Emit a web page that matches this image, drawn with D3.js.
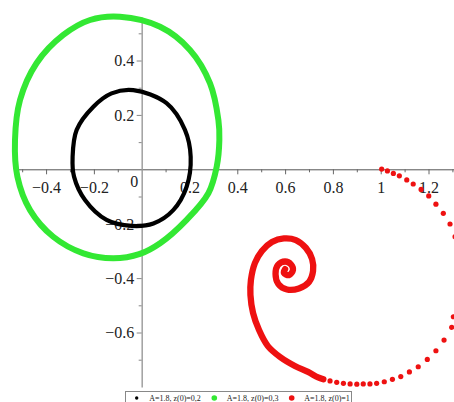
<!DOCTYPE html>
<html>
<head>
<meta charset="utf-8">
<script src="https://cdn.jsdelivr.net/npm/d3@7"></script>
<style>
  html, body { margin: 0; padding: 0; background: #fff; }
  svg { display: block; }
  svg text { font-family: "Liberation Serif", "Times New Roman", serif; }
</style>
</head>
<body>
<svg id="chart" width="454" height="402"></svg>
<script>
// z(0)=0,2 : closed orbit
const orbitSmall = [
  [-0.035, 0.291], [0.104, 0.243], [0.181, 0.145], [0.205, 0.046],
  [0.188, -0.064], [0.132, -0.150], [0.049, -0.199], [-0.042, -0.208],
  [-0.147, -0.186], [-0.237, -0.113], [-0.283, -0.027], [-0.289, 0.046],
  [-0.272, 0.145], [-0.202, 0.230], [-0.126, 0.279]
];

// z(0)=0,3 : larger closed orbit
const orbitLarge = [
  [-0.091, 0.561], [0.077, 0.524], [0.202, 0.439], [0.286, 0.316],
  [0.321, 0.181], [0.325, 0.108], [0.314, 0.010], [0.279, -0.088],
  [0.188, -0.186], [0.077, -0.272], [-0.007, -0.311], [-0.119, -0.327],
  [-0.244, -0.309], [-0.370, -0.248], [-0.467, -0.150], [-0.520, -0.027],
  [-0.530, 0.108], [-0.509, 0.255], [-0.440, 0.390], [-0.328, 0.494],
  [-0.216, 0.549]
];

// z(0)=1 : sparse points of the outer sweep
const spiralDots = [
  [1.004, 0.001], [1.028, -0.006], [1.053, -0.015], [1.078, -0.024],
  [1.109, -0.039], [1.136, -0.054], [1.169, -0.074], [1.201, -0.098],
  [1.231, -0.128], [1.262, -0.162], [1.290, -0.201], [1.311, -0.248],
  [1.304, -0.542], [1.297, -0.581], [1.265, -0.628], [1.231, -0.667],
  [1.195, -0.699], [1.157, -0.726], [1.120, -0.745], [1.084, -0.762],
  [1.049, -0.772], [1.015, -0.781], [0.983, -0.787], [0.955, -0.789],
  [0.927, -0.789], [0.900, -0.790], [0.872, -0.789], [0.844, -0.787],
  [0.816, -0.783], [0.788, -0.778], [0.760, -0.772]
];

// z(0)=1 : points so dense they merge into a line, winding into the focus
const spiralTrack = [
  [0.760, -0.772], [0.738, -0.765], [0.696, -0.745], [0.641, -0.723],
  [0.579, -0.690], [0.528, -0.650], [0.491, -0.591], [0.466, -0.528],
  [0.455, -0.462], [0.457, -0.407], [0.474, -0.344], [0.503, -0.300],
  [0.545, -0.267], [0.595, -0.254], [0.645, -0.260], [0.687, -0.289],
  [0.713, -0.330], [0.717, -0.374], [0.700, -0.414], [0.658, -0.438],
  [0.608, -0.442], [0.572, -0.422], [0.560, -0.385], [0.570, -0.352],
  [0.600, -0.339], [0.625, -0.350], [0.633, -0.370], [0.616, -0.389],
  [0.595, -0.381], [0.600, -0.367]
];

const seriesLabels = ["A=1.8, z(0)=0,2", "A=1.8, z(0)=0,3", "A=1.8, z(0)=1"];
const seriesColors = ["#000000", "#33e833", "#ee1111"];

const xMajor = [-0.4, -0.2, 0.2, 0.4, 0.6, 0.8, 1, 1.2];
const xMinor = [-0.5, -0.3, -0.1, 0.1, 0.3, 0.5, 0.7, 0.9, 1.1, 1.3];
const yMajor = [0.4, 0.2, -0.2, -0.4, -0.6];
const yMinor = [0.5, 0.3, 0.1, -0.1, -0.3, -0.5, -0.7];

const serif = "Liberation Serif, Times New Roman, serif";
const svg = d3.select("#chart");

const x = d3.scaleLinear().domain([-0.53, 1.31]).range([15, 454.8]);
const y = d3.scaleLinear().domain([-0.80, 0.56]).range([386.9, 17]);

const fmt = d3.format("~g");

// axes cross at the origin
const xAxisG = svg.append("g").attr("transform", `translate(0,${y(0)})`);
xAxisG.call(d3.axisBottom(x).tickValues(xMinor).tickSize(3).tickSizeOuter(0).tickFormat(""));
xAxisG.append("g").call(d3.axisBottom(x).tickValues(xMajor).tickSize(5).tickSizeOuter(0).tickFormat(fmt))
  .call(g => g.select(".domain").remove());
xAxisG.selectAll("path.domain").attr("stroke", "#555").attr("stroke-width", 1);
xAxisG.selectAll(".tick line").attr("stroke", "#666");
xAxisG.selectAll(".tick text")
  .attr("y", 0).attr("dy", 23.7)
  .attr("font-size", 16).attr("font-family", serif).attr("fill", "#222");

const yAxisG = svg.append("g").attr("transform", `translate(${x(0)},0)`);
yAxisG.call(d3.axisLeft(y).tickValues(yMinor).tickSize(3).tickSizeOuter(0).tickFormat(""));
yAxisG.append("g").call(d3.axisLeft(y).tickValues(yMajor).tickSize(5).tickSizeOuter(0).tickFormat(fmt))
  .call(g => g.select(".domain").remove());
yAxisG.selectAll("path.domain").attr("stroke", "#999").attr("stroke-width", 1.4);
yAxisG.selectAll(".tick line").attr("stroke", "#888");
yAxisG.selectAll(".tick text")
  .attr("x", -7.5).attr("dy", "0.34em")
  .attr("font-size", 16).attr("font-family", serif).attr("fill", "#222");

// shared origin label
svg.append("text")
  .attr("x", x(0) - 7.5).attr("y", y(0) + 17.8)
  .attr("text-anchor", "middle").attr("font-size", 16).attr("font-family", serif)
  .attr("fill", "#222")
  .text("0");

const closedLine = d3.line().x(d => x(d[0])).y(d => y(d[1])).curve(d3.curveCatmullRomClosed);
const openLine = d3.line().x(d => x(d[0])).y(d => y(d[1])).curve(d3.curveCatmullRom);

svg.append("path").datum(orbitSmall)
  .attr("d", closedLine).attr("fill", "none")
  .attr("stroke", seriesColors[0]).attr("stroke-width", 4.2);

svg.append("path").datum(orbitLarge)
  .attr("d", closedLine).attr("fill", "none")
  .attr("stroke", seriesColors[1]).attr("stroke-width", 6);

svg.append("path").datum(spiralTrack)
  .attr("d", openLine).attr("fill", "none")
  .attr("stroke", seriesColors[2]).attr("stroke-width", 6.3)
  .attr("stroke-linecap", "round").attr("stroke-linejoin", "round");

svg.append("g").selectAll("circle").data(spiralDots).join("circle")
  .attr("cx", d => x(d[0])).attr("cy", d => y(d[1])).attr("r", 2.6)
  .attr("fill", seriesColors[2]);

// legend, cut by the bottom edge like in the original
const legend = svg.append("g");
legend.append("rect")
  .attr("x", 125.5).attr("y", 391.5).attr("width", 226).attr("height", 14)
  .attr("fill", "#fff").attr("stroke", "#888");

const legendX = [136.7, 214.3, 291.7];
const legendR = [1.7, 2.8, 2.8];
seriesLabels.forEach((label, i) => {
  legend.append("circle")
    .attr("cx", legendX[i]).attr("cy", 398).attr("r", legendR[i])
    .attr("fill", seriesColors[i]);
  legend.append("text")
    .attr("x", legendX[i] + 12.5).attr("y", 401)
    .attr("font-size", 8).attr("font-family", serif).attr("fill", "#222")
    .text(label);
});
</script>
</body>
</html>
